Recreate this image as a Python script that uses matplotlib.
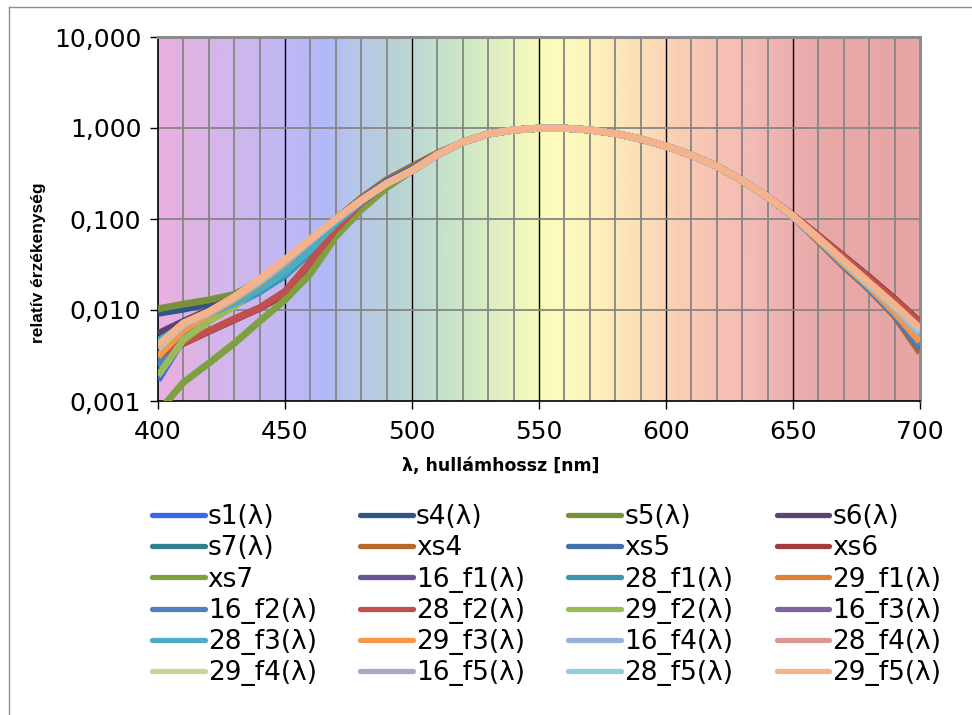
import numpy as np
import matplotlib
matplotlib.use("Agg")
import matplotlib.pyplot as plt
from matplotlib.lines import Line2D
from matplotlib.ticker import FixedLocator, FixedFormatter, NullLocator, NullFormatter

plt.rcParams['font.family'] = ['DejaVu Sans']

# ---------------- data ----------------
wavelength = list(range(400, 701, 10))

s1    = [0.0017, 0.0048, 0.0080, 0.0125, 0.019, 0.030, 0.052, 0.093, 0.155, 0.245, 0.34, 0.51, 0.70, 0.86, 0.95, 0.995, 0.995, 0.952, 0.870, 0.757, 0.631, 0.503, 0.381, 0.265, 0.175, 0.107, 0.058, 0.031, 0.018, 0.0090, 0.0042]
s4    = [0.0092, 0.0102, 0.0117, 0.0142, 0.020, 0.030, 0.050, 0.092, 0.155, 0.245, 0.34, 0.51, 0.70, 0.86, 0.95, 0.995, 0.995, 0.952, 0.870, 0.757, 0.631, 0.503, 0.381, 0.265, 0.175, 0.107, 0.059, 0.032, 0.018, 0.0095, 0.0045]
s5    = [0.0103, 0.0116, 0.0129, 0.0148, 0.021, 0.033, 0.056, 0.097, 0.160, 0.245, 0.34, 0.51, 0.70, 0.86, 0.95, 0.995, 0.995, 0.952, 0.870, 0.757, 0.631, 0.503, 0.381, 0.265, 0.175, 0.107, 0.061, 0.034, 0.019, 0.0108, 0.0058]
s6    = [0.0055, 0.0075, 0.0100, 0.0138, 0.021, 0.033, 0.055, 0.096, 0.160, 0.245, 0.34, 0.51, 0.70, 0.86, 0.95, 0.995, 0.995, 0.952, 0.870, 0.757, 0.631, 0.503, 0.381, 0.265, 0.175, 0.107, 0.061, 0.034, 0.019, 0.0106, 0.0057]
s7    = [0.0046, 0.0068, 0.0090, 0.0115, 0.016, 0.024, 0.043, 0.085, 0.150, 0.245, 0.34, 0.51, 0.70, 0.86, 0.95, 0.995, 0.995, 0.952, 0.870, 0.757, 0.631, 0.503, 0.381, 0.265, 0.175, 0.107, 0.060, 0.033, 0.019, 0.0100, 0.0052]
xs4   = [0.0030, 0.0060, 0.0090, 0.0130, 0.020, 0.032, 0.056, 0.100, 0.170, 0.270, 0.38, 0.53, 0.70, 0.86, 0.95, 0.995, 0.995, 0.952, 0.870, 0.757, 0.631, 0.503, 0.381, 0.265, 0.175, 0.107, 0.057, 0.030, 0.017, 0.0086, 0.0034]
xs5   = [0.0026, 0.0058, 0.0088, 0.0125, 0.019, 0.029, 0.050, 0.093, 0.165, 0.260, 0.36, 0.52, 0.70, 0.86, 0.95, 0.995, 0.995, 0.952, 0.870, 0.757, 0.631, 0.503, 0.381, 0.265, 0.175, 0.107, 0.058, 0.031, 0.017, 0.0088, 0.0038]
xs6   = [0.0032, 0.0043, 0.0058, 0.0078, 0.0104, 0.015, 0.033, 0.076, 0.150, 0.245, 0.34, 0.51, 0.70, 0.86, 0.95, 0.995, 0.995, 0.952, 0.870, 0.757, 0.631, 0.503, 0.381, 0.265, 0.175, 0.110, 0.066, 0.039, 0.023, 0.0133, 0.0074]
xs7   = [0.00075, 0.0016, 0.0026, 0.0043, 0.0075, 0.0129, 0.025, 0.064, 0.126, 0.220, 0.34, 0.51, 0.70, 0.86, 0.95, 0.995, 0.995, 0.952, 0.870, 0.757, 0.631, 0.503, 0.381, 0.265, 0.175, 0.107, 0.061, 0.034, 0.019, 0.0110, 0.0060]
f16_1 = [0.0040, 0.0070, 0.0095, 0.0135, 0.020, 0.032, 0.054, 0.095, 0.160, 0.245, 0.34, 0.51, 0.70, 0.86, 0.95, 0.995, 0.995, 0.952, 0.870, 0.757, 0.631, 0.503, 0.381, 0.265, 0.175, 0.107, 0.060, 0.033, 0.019, 0.0100, 0.0050]
f28_1 = [0.0045, 0.0067, 0.0088, 0.0113, 0.0158, 0.024, 0.044, 0.087, 0.150, 0.245, 0.34, 0.51, 0.70, 0.86, 0.95, 0.995, 0.995, 0.952, 0.870, 0.757, 0.631, 0.503, 0.381, 0.265, 0.175, 0.107, 0.060, 0.033, 0.019, 0.0098, 0.0050]
f29_1 = [0.0030, 0.0058, 0.0088, 0.0128, 0.020, 0.033, 0.056, 0.098, 0.160, 0.245, 0.34, 0.51, 0.70, 0.86, 0.95, 0.995, 0.995, 0.952, 0.870, 0.757, 0.631, 0.503, 0.381, 0.265, 0.175, 0.107, 0.059, 0.032, 0.018, 0.0094, 0.0045]
f16_2 = [0.0024, 0.0055, 0.0085, 0.0125, 0.019, 0.030, 0.051, 0.094, 0.160, 0.245, 0.34, 0.51, 0.70, 0.86, 0.95, 0.995, 0.995, 0.952, 0.870, 0.757, 0.631, 0.503, 0.381, 0.265, 0.175, 0.107, 0.058, 0.031, 0.017, 0.0089, 0.0040]
f28_2 = [0.0032, 0.0044, 0.0059, 0.0080, 0.0106, 0.016, 0.034, 0.077, 0.150, 0.245, 0.34, 0.51, 0.70, 0.86, 0.95, 0.995, 0.995, 0.952, 0.870, 0.757, 0.631, 0.503, 0.381, 0.265, 0.175, 0.109, 0.065, 0.038, 0.022, 0.0128, 0.0072]
f29_2 = [0.0019, 0.0047, 0.0075, 0.0110, 0.018, 0.030, 0.053, 0.095, 0.160, 0.245, 0.34, 0.51, 0.70, 0.86, 0.95, 0.995, 0.995, 0.952, 0.870, 0.757, 0.631, 0.503, 0.381, 0.265, 0.175, 0.107, 0.061, 0.034, 0.019, 0.0109, 0.0058]
f16_3 = [0.0040, 0.0070, 0.0095, 0.0137, 0.021, 0.034, 0.057, 0.098, 0.160, 0.245, 0.34, 0.51, 0.70, 0.86, 0.95, 0.995, 0.995, 0.952, 0.870, 0.757, 0.631, 0.503, 0.381, 0.265, 0.175, 0.107, 0.060, 0.033, 0.019, 0.0100, 0.0050]
f28_3 = [0.0045, 0.0068, 0.0090, 0.0118, 0.017, 0.026, 0.046, 0.090, 0.155, 0.245, 0.34, 0.51, 0.70, 0.86, 0.95, 0.995, 0.995, 0.952, 0.870, 0.757, 0.631, 0.503, 0.381, 0.265, 0.175, 0.107, 0.060, 0.033, 0.019, 0.0099, 0.0052]
f29_3 = [0.0031, 0.0060, 0.0090, 0.0131, 0.020, 0.033, 0.057, 0.099, 0.160, 0.245, 0.34, 0.51, 0.70, 0.86, 0.95, 0.995, 0.995, 0.952, 0.870, 0.757, 0.631, 0.503, 0.381, 0.265, 0.175, 0.107, 0.059, 0.032, 0.018, 0.0094, 0.0045]
f16_4 = [0.0038, 0.0070, 0.0094, 0.0137, 0.021, 0.034, 0.058, 0.098, 0.160, 0.245, 0.34, 0.51, 0.70, 0.86, 0.95, 0.995, 0.995, 0.952, 0.870, 0.757, 0.631, 0.503, 0.381, 0.265, 0.175, 0.107, 0.061, 0.034, 0.019, 0.0106, 0.0055]
f28_4 = [0.0040, 0.0068, 0.0092, 0.0135, 0.021, 0.034, 0.058, 0.098, 0.160, 0.245, 0.34, 0.51, 0.70, 0.86, 0.95, 0.995, 0.995, 0.952, 0.870, 0.757, 0.631, 0.503, 0.381, 0.265, 0.175, 0.108, 0.062, 0.035, 0.020, 0.0114, 0.0062]
f29_4 = [0.0038, 0.0070, 0.0094, 0.0137, 0.021, 0.035, 0.059, 0.099, 0.160, 0.245, 0.34, 0.51, 0.70, 0.86, 0.95, 0.995, 0.995, 0.952, 0.870, 0.757, 0.631, 0.503, 0.381, 0.265, 0.175, 0.107, 0.061, 0.034, 0.019, 0.0110, 0.0060]
f16_5 = [0.0040, 0.0071, 0.0095, 0.0138, 0.021, 0.035, 0.059, 0.099, 0.160, 0.245, 0.34, 0.51, 0.70, 0.86, 0.95, 0.995, 0.995, 0.952, 0.870, 0.757, 0.631, 0.503, 0.381, 0.265, 0.175, 0.107, 0.061, 0.034, 0.019, 0.0110, 0.0060]
f28_5 = [0.0041, 0.0071, 0.0095, 0.0138, 0.021, 0.035, 0.059, 0.099, 0.160, 0.245, 0.34, 0.51, 0.70, 0.86, 0.95, 0.995, 0.995, 0.952, 0.870, 0.757, 0.631, 0.503, 0.381, 0.265, 0.175, 0.107, 0.061, 0.034, 0.019, 0.0110, 0.0060]
f29_5 = [0.0041, 0.0072, 0.0096, 0.0140, 0.022, 0.036, 0.060, 0.100, 0.160, 0.245, 0.34, 0.51, 0.70, 0.86, 0.95, 0.995, 0.995, 0.952, 0.870, 0.757, 0.631, 0.503, 0.381, 0.265, 0.175, 0.108, 0.062, 0.035, 0.020, 0.0114, 0.0063]

series_names = ["s1(λ)", "s4(λ)", "s5(λ)", "s6(λ)", "s7(λ)", "xs4", "xs5", "xs6",
                "xs7", "16_f1(λ)", "28_f1(λ)", "29_f1(λ)", "16_f2(λ)", "28_f2(λ)", "29_f2(λ)", "16_f3(λ)",
                "28_f3(λ)", "29_f3(λ)", "16_f4(λ)", "28_f4(λ)", "29_f4(λ)", "16_f5(λ)", "28_f5(λ)", "29_f5(λ)"]
series_values = [s1, s4, s5, s6, s7, xs4, xs5, xs6, xs7, f16_1, f28_1, f29_1, f16_2, f28_2, f29_2,
                 f16_3, f28_3, f29_3, f16_4, f28_4, f29_4, f16_5, f28_5, f29_5]
series_colors = ["#3868F2", "#2F5486", "#77913A", "#5C4373", "#2F7F8E", "#B8692A", "#4470AD", "#A43C3C",
                 "#7FA040", "#6A5493", "#3D96AE", "#DF8236", "#4F81BD", "#C0504D", "#9BBB59", "#8064A2",
                 "#4BACC6", "#F79646", "#95B3D7", "#D99694", "#C3D69B", "#B3A2C7", "#93CDDD", "#F6B28A"]

y_ticks = [0.001, 0.01, 0.1, 1, 10]
y_tick_labels = ["0,001", "0,010", "0,100", "1,000", "10,000"]
x_ticks = [400, 450, 500, 550, 600, 650, 700]

# background spectrum colours (band centres in nm)
bg_nm = [400, 405, 415, 425, 435, 445, 455, 465, 475, 485, 495, 505, 515, 525, 535, 545, 555, 565,
         575, 585, 595, 605, 615, 625, 635, 645, 655, 665, 700]
bg_hex = ["#E8B0E0", "#E6B0E0", "#DCB4E4", "#D4B6EC", "#CCB6EE", "#C4B8F2", "#BCB8F6", "#B2B8F8",
          "#B6C4EC", "#B8CCE0", "#BAD4D4", "#C0DCD0", "#C8E4C8", "#D4EAC4", "#E2F0C0", "#F2F8BC",
          "#FCFCBC", "#FCF6BC", "#FCEEB8", "#FCE4B8", "#FCDAB4", "#FACEB4", "#F8C6B4", "#F6C0B4",
          "#F2BAB4", "#EEB2B0", "#EAACAC", "#E8A8A8", "#E6A6A6"]

# ---------------- figure ----------------
W, H = 972, 715
fig = plt.figure(figsize=(W / 100, H / 100), dpi=100)
fig.patch.set_facecolor("white")

# chart area border (left/top visible)
fig.add_artist(Line2D([9 / W, 9 / W], [0, 1 - 7 / H], transform=fig.transFigure, color="#8C8C8C", lw=1.0))
fig.add_artist(Line2D([9 / W, 1], [1 - 7 / H, 1 - 7 / H], transform=fig.transFigure, color="#8C8C8C", lw=1.0))

ax = fig.add_axes([158 / W, 1 - 401 / H, 762 / W, 364 / H])
ax.set_yscale("log")
ax.set_xlim(400, 700)
ax.set_ylim(0.001, 10)

# background gradient
def hex2rgb(h):
    return [int(h[i:i + 2], 16) / 255 for i in (1, 3, 5)]
xs = np.linspace(400, 700, 601)
rgb = np.array([hex2rgb(h) for h in bg_hex])
grad = np.stack([np.interp(xs, bg_nm, rgb[:, k]) for k in range(3)], axis=-1)[None, :, :]
ax.imshow(grad, extent=[400, 700, 0.001, 10], aspect="auto", origin="lower", zorder=0,
          interpolation="bilinear")

# grid lines
for x in range(410, 700, 10):
    if x % 50 == 0:
        ax.axvline(x, color="black", lw=1.0, zorder=1)
    else:
        ax.axvline(x, color="#868686", lw=1.3, zorder=1)
for y in [0.01, 0.1, 1]:
    ax.axhline(y, color="#868686", lw=1.3, zorder=1)

# series
for name, vals, col in zip(series_names, series_values, series_colors):
    ax.plot(wavelength, vals, color=col, lw=5.0, solid_joinstyle="round", solid_capstyle="butt",
            zorder=3, label=name)

# ticks
ax.yaxis.set_major_locator(FixedLocator(y_ticks))
ax.yaxis.set_major_formatter(FixedFormatter(y_tick_labels))
ax.yaxis.set_minor_locator(NullLocator())
ax.yaxis.set_minor_formatter(NullFormatter())
ax.set_xticks(x_ticks)
ax.set_xticklabels([str(v) for v in x_ticks])
ax.tick_params(axis="both", which="major", direction="out", length=6, width=1.0, color="black",
               labelsize=18, labelcolor="black")
ax.tick_params(axis="x", pad=8)
ax.tick_params(axis="y", pad=6)

for side in ["left", "bottom"]:
    ax.spines[side].set_color("black")
    ax.spines[side].set_linewidth(1.2)
for side in ["top", "right"]:
    ax.spines[side].set_color("#8C8C8C")
    ax.spines[side].set_linewidth(2.2)

ax.set_xlabel("λ, hullámhossz [nm]", fontsize=12.5, fontweight="bold")
ax.xaxis.label.set_va("center")
ax.xaxis.set_label_coords(0.45, (401 - 466) / 364)
ax.set_ylabel("relatív érzékenység", fontsize=12.5, fontweight="bold",
              family=["Liberation Sans", "DejaVu Sans"])
ax.yaxis.label.set_va("center")
ax.yaxis.set_label_coords((38 - 158) / 762, (401 - 263) / 364)

# legend: row-major order in a 4-column layout
ncol, nrow = 4, 6
order = [r * ncol + c for c in range(ncol) for r in range(nrow)]
leg_handles = [Line2D([], [], color=series_colors[i], lw=3.8, solid_capstyle="round") for i in order]
leg_labels = [series_names[i] for i in order]
fig.legend(leg_handles, leg_labels, ncol=ncol, loc="upper left",
           bbox_to_anchor=(152 / W, 1 - 504 / H), frameon=False, fontsize=19,
           handlelength=2.0, handletextpad=0.11, columnspacing=1.65, labelspacing=0.2,
           borderpad=0, borderaxespad=0)

fig.savefig("out.png", dpi=100, facecolor="white")
